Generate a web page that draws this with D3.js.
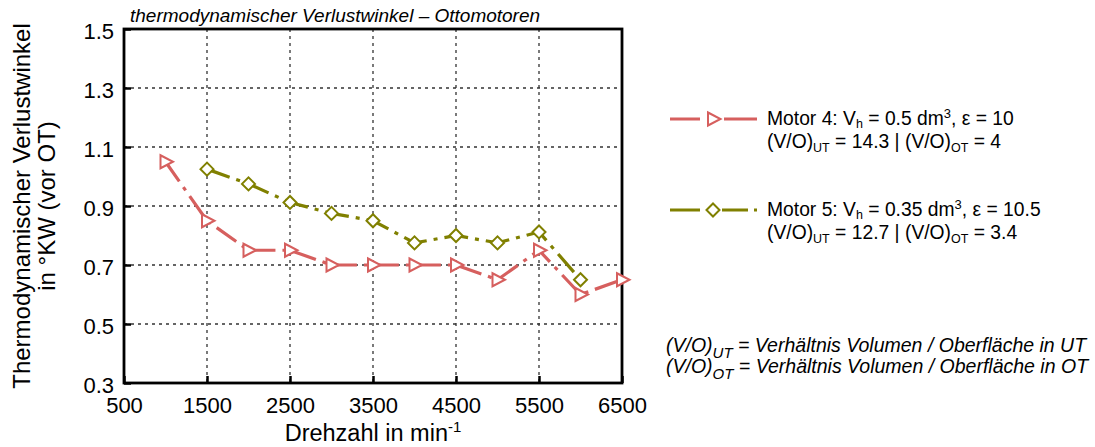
<!DOCTYPE html>
<html><head><meta charset="utf-8">
<script src="https://cdn.jsdelivr.net/npm/d3@7"></script>
<style>
body{margin:0;background:#fff;}
svg{display:block;font-family:"Liberation Sans",Arial,sans-serif;}
</style></head>
<body><svg id="c" width="1095" height="447"></svg>
<script>
const xTicks = [500,1500,2500,3500,4500,5500,6500];
const yTicks = [0.3,0.5,0.7,0.9,1.1,1.3,1.5];
const motor4X = [1000,1500,2000,2500,3000,3500,4000,4500,5000,5500,6000,6500];
const motor4Y = [1.05,0.85,0.75,0.75,0.70,0.70,0.70,0.70,0.65,0.75,0.60,0.65];
const motor5X = [1500,2000,2500,3000,3500,4000,4500,5000,5500,6000];
const motor5Y = [1.025,0.975,0.912,0.875,0.85,0.775,0.80,0.775,0.812,0.65];

const svg = d3.select("#c");
const L=124,R=622,T=29,B=383;
const x = d3.scaleLinear().domain([500,6500]).range([L,R]);
const y = d3.scaleLinear().domain([0.3,1.5]).range([B,T]);
const red="#d65f5e", olive="#808000";

// grid
const g = svg.append("g");
g.selectAll(".vg").data(xTicks.slice(1,-1)).enter().append("line")
 .attr("x1",d=>x(d)).attr("x2",d=>x(d)).attr("y1",T).attr("y2",B)
 .attr("stroke","#333").attr("stroke-width",1.3).attr("stroke-dasharray","3,4");
g.selectAll(".hg").data(yTicks.slice(1,-1)).enter().append("line")
 .attr("y1",d=>y(d)).attr("y2",d=>y(d)).attr("x1",L).attr("x2",R)
 .attr("stroke","#333").attr("stroke-width",1.3).attr("stroke-dasharray","3,4");

// axes
const ax = svg.append("g").attr("transform",`translate(0,${B})`)
 .call(d3.axisBottom(x).tickValues(xTicks).tickSize(-7).tickPadding(14).tickFormat(d3.format("d")));
const ay = svg.append("g").attr("transform",`translate(${L},0)`)
 .call(d3.axisLeft(y).tickValues(yTicks).tickSize(-7).tickPadding(10).tickFormat(d3.format(".1f")));
[ax,ay].forEach(a=>{
 a.select(".domain").remove();
 a.selectAll(".tick line").attr("stroke","#000").attr("stroke-width",2.5);
 a.selectAll(".tick text").attr("font-size",22).attr("fill","#000").attr("font-family","Liberation Sans, Arial, sans-serif");
});
ay.selectAll(".tick text").attr("dy","0.45em");
// frame
svg.append("rect").attr("x",L).attr("y",T).attr("width",R-L).attr("height",B-T)
 .attr("fill","none").attr("stroke","#000").attr("stroke-width",2.8);

// series
const line = d3.line().x(d=>x(d[0])).y(d=>y(d[1]));
const s4 = motor4X.map((v,i)=>[v,motor4Y[i]]);
const s5 = motor5X.map((v,i)=>[v,motor5Y[i]]);
svg.append("path").datum(s5).attr("d",line).attr("fill","none").attr("stroke",olive)
 .attr("stroke-width",3.2).attr("stroke-dasharray","24,7,4,7");
svg.append("path").datum(s4).attr("d",line).attr("fill","none").attr("stroke",red)
 .attr("stroke-width",3.2).attr("stroke-dasharray","24,7,4,7");

const tri = "M-5,-6.5 L7.5,0 L-5,6.5 Z";
const dia = "M-6.5,0 L0,-6.5 L6.5,0 L0,6.5 Z";
svg.selectAll(".m5").data(s5).enter().append("path").attr("d",dia)
 .attr("transform",d=>`translate(${x(d[0])},${y(d[1])})`)
 .attr("fill","#fff").attr("stroke",olive).attr("stroke-width",2);
svg.selectAll(".m4").data(s4).enter().append("path").attr("d",tri)
 .attr("transform",d=>`translate(${x(d[0])},${y(d[1])})`)
 .attr("fill","#fff").attr("stroke",red).attr("stroke-width",2);

// title
svg.append("text").attr("x",130).attr("y",22).attr("font-size",19).attr("font-style","italic")
 .text("thermodynamischer Verlustwinkel – Ottomotoren");

// axis titles
const xt = svg.append("text").attr("x",(L+R)/2).attr("y",441).attr("text-anchor","middle").attr("font-size",23.5);
xt.append("tspan").text("Drehzahl in min");
xt.append("tspan").attr("dy",-9).attr("font-size",15).text("-1");
const yt = svg.append("text").attr("transform",`translate(30,${(T+B)/2}) rotate(-90)`).attr("text-anchor","middle").attr("font-size",24);
yt.append("tspan").attr("x",0).attr("y",0).text("Thermodynamischer Verlustwinkel");
yt.append("tspan").attr("x",0).attr("y",25).text("in °KW (vor OT)");

// legend: one text element per entry, two lines
function legendText(yb, lines){
 const t = svg.append("text").attr("font-size",19.3);
 lines.forEach((parts,li)=>{
   let first = true;
   parts.forEach(p=>{
     const ts = t.append("tspan").text(p.t);
     if(first){ts.attr("x",767).attr("y",yb+li*23); first=false;}
     if(p.sub){ts.attr("font-size",12.5).attr("dy",p.sd||4);}
     if(p.sup){ts.attr("font-size",13).attr("dy",-7);}
     if(p.back){ts.attr("dy",p.back);}
   });
 });
}
// Motor 4
svg.append("line").attr("x1",670).attr("x2",757).attr("y1",119).attr("y2",119)
 .attr("stroke",red).attr("stroke-width",3.2).attr("stroke-dasharray","30,24,33");
svg.append("path").attr("d",tri).attr("transform","translate(713,119)").attr("fill","#fff").attr("stroke",red).attr("stroke-width",2);
legendText(125,[
 [{t:"Motor 4: V"},{t:"h",sub:true,sd:2.5},{t:" = 0.5 dm",back:-2.5},{t:"3",sup:true},{t:", ε = 10",back:7}],
 [{t:"(V/O)"},{t:"UT",sub:true},{t:" = 14.3 | (V/O)",back:-4},{t:"OT",sub:true},{t:" = 4",back:-4}]
]);
// Motor 5
svg.append("line").attr("x1",670).attr("x2",757).attr("y1",210).attr("y2",210)
 .attr("stroke",olive).attr("stroke-width",3.2).attr("stroke-dasharray","30,22,26,6,4");
svg.append("path").attr("d",dia).attr("transform","translate(713,210)").attr("fill","#fff").attr("stroke",olive).attr("stroke-width",2);
legendText(216,[
 [{t:"Motor 5: V"},{t:"h",sub:true,sd:2.5},{t:" = 0.35 dm",back:-2.5},{t:"3",sup:true},{t:", ε = 10.5",back:7}],
 [{t:"(V/O)"},{t:"UT",sub:true},{t:" = 12.7 | (V/O)",back:-4},{t:"OT",sub:true},{t:" = 3.4",back:-4}]
]);

// notes
function note(yb, sub, rest){
 const t = svg.append("text").attr("x",666).attr("y",yb).attr("font-size",19.5).attr("font-style","italic");
 t.append("tspan").text("(V/O)");
 t.append("tspan").attr("font-size",15).attr("dy",6).text(sub);
 t.append("tspan").attr("dy",-6).text(rest);
}
note(352,"UT"," = Verhältnis Volumen / Oberfläche in UT");
note(373,"OT"," = Verhältnis Volumen / Oberfläche in OT");
</script></body></html>
